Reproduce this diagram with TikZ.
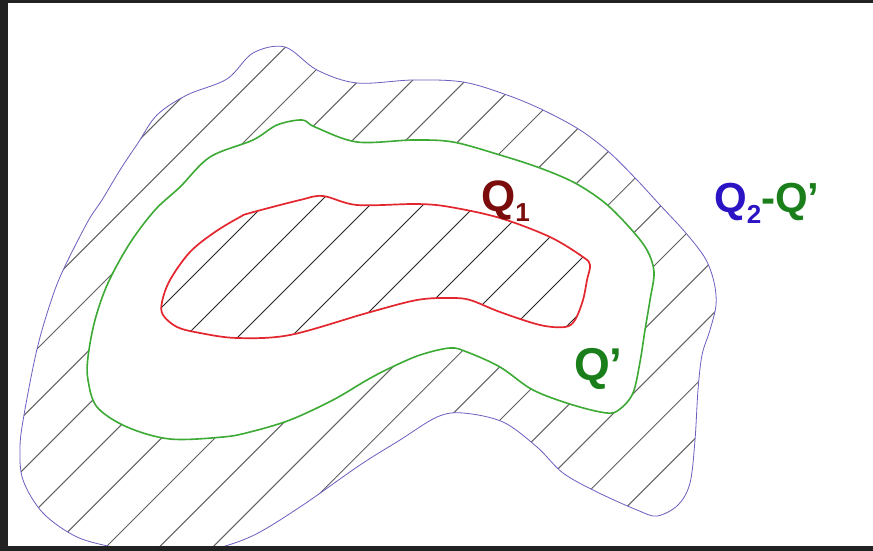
\documentclass[tikz,border=0pt]{standalone}
\usepackage{fontspec}
\setmainfont{Liberation Sans}
\begin{document}
\begin{tikzpicture}[x=1pt,y=-1pt,
  outerline/.style={draw=blueline,line width=0.8pt},
  midline/.style={draw=greenline,line width=1.6pt,fill=white},
  innerline/.style={draw=redline,line width=1.7pt},
  hatchout/.style={draw=black!62,line width=1pt},
  hatchin/.style={draw=black!85,line width=1pt},
  lab/.style={anchor=base west,inner sep=0pt,font=\bfseries}]
\definecolor{blueline}{HTML}{6A5FC0}
\definecolor{greenline}{HTML}{3DAA35}
\definecolor{redline}{HTML}{E3262E}
\definecolor{qred}{HTML}{7A0C0C}
\definecolor{qblue}{HTML}{2A14C4}
\definecolor{qgreen}{HTML}{1A7E1A}
\definecolor{framecol}{HTML}{222222}
\useasboundingbox (0,0) rectangle (873,551);
\fill[white] (0,0) rectangle (873,551);
% outer region Q2
\def\outerpath{plot[smooth cycle,tension=0.55] coordinates {
 (285,47) (317,70) (357,83) (413,80) (463,82) (507,95) (543,110) (580,130)
 (610,153) (637,180) (660,205) (685,232) (705,258) (714,282) (716,305)
 (710,330) (702,355) (698,390) (695,440) (690,483) (678,505) (657,516)
 (637,510) (597,492) (563,473) (537,447) (503,422) (463,413) (437,417)
 (400,440) (360,465) (300,507) (250,537) (200,552) (150,554) (117,548)
 (77,537) (43,513) (23,480) (20,447) (24,415) (35,358) (45,320) (60,277)
 (87,223) (102,200) (120,170) (138,143) (157,115) (187,95) (227,79) (253,53)}}
\begin{scope}
\clip \outerpath;
\foreach \k in {-8,...,20}{
  \draw[hatchout] ({386+53.4*\k},0) -- ({386+53.4*\k-700},700);
}
\end{scope}
\draw[outerline] \outerpath;
% middle region Q'
\draw[midline] plot[smooth cycle,tension=0.55] coordinates {
 (277,125) (302,120) (315,127) (357,142) (413,140) (453,142) (500,155)
 (540,168) (575,183) (605,203) (630,228) (647,250) (654,272) (650,300)
 (645,330) (640,362) (633,393) (620,409) (607,413) (573,405) (533,390)
 (500,367) (467,352) (450,348) (420,355) (390,368) (367,380) (333,400)
 (290,420) (250,432) (223,437) (170,439) (127,427) (97,407) (88,380)
 (88,357) (95,320) (108,283) (130,243) (155,210) (180,187) (210,157) (253,140)};
% inner region Q1
\def\innerpath{plot[smooth cycle,tension=0.55] coordinates {
 (162,302) (170,280) (190,252) (215,232) (240,217) (250,213) (300,200)
 (323,196) (357,205) (417,204) (450,207) (500,218) (550,237) (583,257)
 (590,265) (587,280) (583,300) (575,320) (565,327) (540,325) (500,312)
 (470,300) (450,298) (417,300) (367,313) (290,335) (237,338) (200,333)
 (177,327) (163,315)}}
\begin{scope}
\clip \innerpath;
\foreach \k in {-6,...,12}{
  \draw[hatchin] ({522+53*\k},0) -- ({522+53*\k-700},700);
}
\end{scope}
\draw[innerline] \innerpath;
% labels
\node[lab,text=qred] (lq1) at (481,211)
  {\fontsize{44}{44}\selectfont Q\raisebox{-10pt}{\fontsize{26}{26}\selectfont 1}};
\node[lab] (lq2) at (714,212)
  {\fontsize{42}{42}\selectfont\textcolor{qblue}{Q\raisebox{-11pt}{\fontsize{26}{26}\selectfont 2}}\textcolor{qgreen}{-Q’}};
\node[lab,text=qgreen] (lqp) at (574,380)
  {\fontsize{46}{46}\selectfont Q’};
% frame
\fill[framecol] (0,0) rectangle (873,3);
\fill[framecol] (0,0) rectangle (8,551);
\fill[framecol] (0,546) rectangle (873,551);
\end{tikzpicture}
\end{document}
